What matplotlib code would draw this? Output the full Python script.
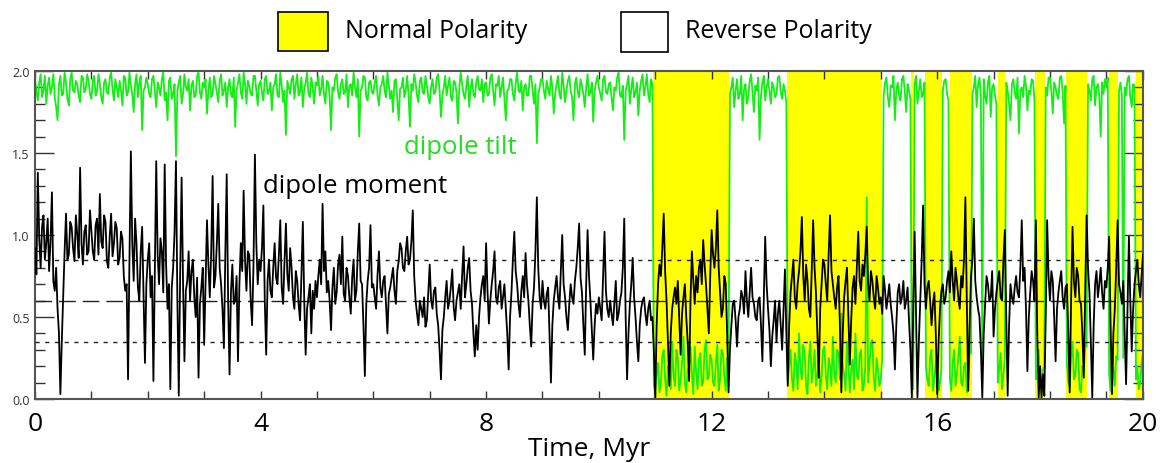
import matplotlib
matplotlib.use("Agg")
import matplotlib.pyplot as plt
import numpy as np
from matplotlib.patches import Rectangle
from matplotlib.ticker import MultipleLocator

plt.rcParams['font.family'] = ['Open Sans', 'DejaVu Sans']

# ---------------- data ----------------
time_step = 0.025         # Myr between samples
t_end = 19.65             # Myr, right edge of the record

# dipole moment, one row per Myr (40 samples each, last row shorter)
moment_rows = [
    [0.92, 0.76, 1.38, 0.98, 0.80, 1.05, 1.12, 0.85, 0.95, 1.10, 0.78, 0.96, 1.26, 0.72, 0.66, 0.80, 0.55, 0.40, 0.03, 0.35,
     0.62, 0.90, 1.13, 0.85, 0.88, 1.08, 1.05, 0.92, 0.84, 1.12, 1.00, 0.86, 1.41, 0.95, 0.82, 1.02, 1.06, 0.88, 0.90, 1.15],
    [1.02, 0.90, 0.85, 1.06, 1.10, 0.88, 1.25, 0.96, 0.92, 1.12, 1.08, 0.84, 0.80, 0.99, 1.13, 0.87, 0.95, 1.08, 1.04, 0.82,
     0.86, 1.02, 0.98, 0.75, 0.66, 0.70, 0.12, 0.85, 1.51, 0.95, 0.72, 1.10, 0.95, 0.68, 0.60, 0.90, 1.05, 0.64, 0.22, 0.70],
    [0.85, 0.95, 0.62, 0.75, 0.11, 0.80, 1.45, 0.88, 0.70, 0.98, 0.90, 0.65, 1.43, 0.82, 0.55, 0.70, 0.06, 0.68, 0.80, 1.02,
     1.45, 0.60, 0.02, 0.78, 1.35, 0.72, 0.23, 0.66, 0.72, 0.90, 0.60, 0.78, 0.85, 0.62, 0.50, 0.74, 0.13, 0.58, 0.68, 0.80],
    [0.33, 0.70, 1.09, 0.82, 0.62, 0.90, 1.36, 0.68, 0.75, 0.95, 1.19, 0.80, 0.70, 0.55, 0.31, 0.88, 1.37, 0.60, 0.15, 0.65,
     0.82, 0.58, 0.60, 0.75, 0.23, 0.70, 0.95, 0.78, 1.27, 0.85, 0.66, 0.90, 0.88, 0.60, 0.45, 0.82, 1.49, 0.95, 0.70, 0.85],
    [0.78, 0.92, 1.18, 0.60, 0.27, 0.72, 0.85, 0.66, 0.62, 0.80, 0.95, 0.74, 0.70, 0.88, 1.09, 0.68, 0.58, 0.84, 1.07, 0.76,
     0.66, 0.92, 0.80, 0.62, 0.55, 0.78, 0.72, 0.58, 0.48, 0.75, 1.08, 0.60, 0.27, 0.55, 0.62, 0.70, 0.40, 0.66, 0.55, 0.72],
    [0.62, 0.75, 0.85, 0.70, 1.19, 0.78, 0.90, 0.65, 0.72, 0.60, 0.42, 0.68, 0.80, 0.58, 0.65, 0.82, 0.88, 0.70, 0.99, 0.64,
     0.60, 0.80, 0.75, 0.62, 0.52, 0.74, 0.85, 0.60, 0.66, 0.90, 1.07, 0.72, 0.70, 0.45, 0.14, 0.58, 0.72, 0.80, 1.06, 0.68],
    [0.70, 0.62, 0.55, 0.76, 0.90, 0.68, 0.62, 0.72, 0.75, 0.58, 0.40, 0.64, 0.68, 0.74, 0.80, 0.66, 0.58, 0.78, 0.84, 0.95,
     0.92, 0.80, 0.78, 0.90, 0.99, 0.82, 0.85, 0.96, 1.15, 0.75, 0.60, 0.52, 0.45, 0.60, 0.55, 0.50, 0.62, 0.44, 0.48, 0.65],
    [0.82, 0.60, 0.55, 0.66, 0.68, 0.52, 0.45, 0.30, 0.12, 0.42, 0.50, 0.62, 0.72, 0.55, 0.60, 0.68, 0.79, 0.56, 0.48, 0.60,
     0.65, 0.70, 0.55, 0.75, 0.93, 0.62, 0.70, 0.80, 0.86, 0.66, 0.58, 0.40, 0.26, 0.45, 0.30, 0.50, 0.62, 0.70, 0.75, 0.60],
    [0.95, 0.66, 0.46, 0.60, 0.70, 0.78, 0.90, 0.62, 0.58, 0.68, 0.72, 0.55, 0.62, 0.70, 0.55, 0.40, 0.18, 0.50, 0.65, 0.85,
     1.02, 0.78, 0.70, 0.58, 0.50, 0.66, 0.75, 0.62, 0.89, 0.70, 0.60, 0.45, 0.32, 0.58, 0.68, 0.90, 1.23, 0.80, 0.62, 0.55],
    [0.72, 0.60, 0.55, 0.64, 0.68, 0.40, 0.10, 0.45, 0.60, 0.68, 0.75, 0.62, 0.55, 0.78, 1.00, 0.70, 0.62, 0.50, 0.42, 0.58,
     0.70, 0.62, 0.58, 0.72, 0.80, 0.92, 1.07, 0.74, 0.65, 0.45, 0.27, 0.70, 1.03, 0.75, 0.60, 0.42, 0.24, 0.45, 0.58, 0.52],
    [0.62, 0.55, 0.48, 0.75, 1.02, 0.66, 0.55, 0.50, 0.60, 0.52, 0.45, 0.58, 0.72, 0.48, 0.52, 0.60, 0.65, 0.80, 1.10, 0.50,
     0.12, 0.40, 0.58, 0.70, 0.86, 0.62, 0.50, 0.35, 0.23, 0.45, 0.55, 0.60, 0.62, 0.52, 0.45, 0.55, 0.60, 0.48, 0.50, 0.30],
    [0.01, 0.45, 0.70, 0.82, 0.75, 0.92, 1.13, 0.78, 0.60, 0.35, 0.08, 0.40, 0.55, 0.62, 0.68, 0.58, 0.72, 0.50, 0.27, 0.52,
     0.62, 0.70, 0.50, 0.35, 0.11, 0.60, 0.90, 0.72, 0.58, 0.75, 0.65, 0.80, 0.85, 0.70, 0.97, 0.82, 0.70, 0.55, 0.40, 0.75],
    [1.03, 0.88, 0.80, 0.92, 1.15, 0.80, 0.65, 0.50, 0.55, 0.75, 0.70, 0.40, 0.04, 0.30, 0.45, 0.58, 0.60, 0.48, 0.32, 0.50,
     0.55, 0.66, 0.62, 0.52, 0.78, 0.60, 0.50, 0.65, 0.80, 0.62, 0.58, 0.50, 0.48, 0.60, 0.62, 0.45, 0.23, 0.60, 0.99, 0.70],
    [0.55, 0.42, 0.20, 0.38, 0.48, 0.60, 0.35, 0.52, 0.60, 0.45, 0.30, 0.55, 0.79, 0.40, 0.08, 0.45, 0.65, 0.75, 0.85, 0.62,
     0.55, 0.70, 0.78, 0.90, 1.11, 0.75, 0.60, 0.82, 0.72, 0.55, 0.50, 0.78, 1.09, 0.80, 0.65, 0.40, 0.13, 0.55, 0.70, 0.85],
    [0.82, 0.70, 0.60, 0.88, 1.12, 0.78, 0.70, 0.62, 0.55, 0.68, 0.75, 0.45, 0.04, 0.40, 0.62, 0.72, 0.80, 0.50, 0.21, 0.48,
     0.68, 0.75, 0.58, 0.80, 1.02, 0.72, 0.66, 0.82, 0.75, 0.88, 1.05, 0.70, 0.60, 0.78, 0.72, 0.62, 0.55, 0.75, 0.68, 0.58],
    [0.62, 0.52, 0.75, 0.66, 0.55, 0.62, 0.70, 0.58, 0.50, 0.40, 0.18, 0.45, 0.65, 0.70, 0.58, 0.62, 0.72, 0.55, 0.60, 0.68,
     0.48, 0.30, 0.01, 0.55, 1.02, 0.50, 0.01, 0.35, 0.60, 0.85, 1.18, 0.70, 0.55, 0.68, 0.72, 0.60, 0.45, 0.58, 0.65, 0.40],
    [0.03, 0.35, 0.55, 0.66, 0.70, 0.58, 0.62, 0.72, 0.78, 0.65, 0.90, 0.72, 0.60, 0.80, 0.72, 0.62, 0.55, 0.75, 0.68, 0.85,
     1.23, 0.60, 0.05, 0.45, 0.75, 0.85, 1.10, 0.72, 0.62, 0.55, 0.50, 0.30, 0.01, 0.40, 0.58, 0.75, 0.70, 0.60, 0.62, 0.78],
    [0.38, 0.55, 0.65, 0.72, 0.78, 0.62, 0.60, 0.85, 1.03, 0.50, 0.02, 0.45, 0.70, 0.62, 0.58, 0.68, 0.75, 0.65, 0.62, 0.80,
     1.09, 0.72, 0.80, 0.55, 0.17, 0.50, 0.65, 0.78, 0.72, 0.60, 1.09, 0.40, 0.01, 0.20, 0.01, 0.15, 0.02, 0.50, 1.09, 0.75],
    [0.60, 0.78, 0.72, 0.50, 0.23, 0.55, 0.65, 0.72, 0.78, 0.62, 0.55, 0.68, 0.70, 0.40, 0.04, 0.60, 1.05, 0.72, 0.62, 0.80,
     0.75, 0.60, 0.58, 0.40, 0.13, 0.65, 1.12, 0.80, 0.65, 0.35, 0.01, 0.45, 0.70, 0.78, 0.62, 0.70, 0.80, 0.65, 0.55, 0.72],
    [0.68, 0.80, 0.99, 0.45, 0.03, 0.40, 0.55, 0.80, 1.09, 0.70, 0.65, 0.58, 0.72, 0.40, 0.09, 0.55, 0.99, 0.60, 0.29, 0.55,
     0.70, 0.78, 0.85, 0.70, 0.62, 0.75, 0.88],
]

# dipole tilt, same sampling
tilt_rows = [
    [1.95, 1.88, 1.82, 1.93, 1.98, 1.84, 1.88, 1.97, 1.80, 1.91, 1.96, 1.86, 1.90, 1.98, 1.84, 1.78, 1.70, 1.92, 1.97, 1.85,
     1.86, 1.99, 1.93, 1.83, 1.79, 1.95, 1.99, 1.88, 1.87, 1.94, 1.92, 1.85, 1.81, 1.97, 1.96, 1.87, 1.89, 1.98, 1.94, 1.86],
    [1.83, 1.94, 1.97, 1.85, 1.88, 1.98, 1.92, 1.84, 1.80, 1.93, 1.95, 1.87, 1.86, 1.96, 1.99, 1.89, 1.82, 1.95, 1.90, 1.84,
     1.94, 1.88, 1.79, 1.97, 1.96, 1.85, 1.87, 1.99, 1.91, 1.86, 1.75, 1.92, 1.98, 1.84, 1.93, 1.97, 1.64, 1.88, 1.90, 1.96],
    [1.92, 1.86, 1.84, 1.95, 1.97, 1.88, 1.78, 1.93, 1.90, 1.85, 1.95, 1.99, 1.82, 1.87, 1.70, 1.94, 1.96, 1.83, 1.86, 1.92,
     1.48, 1.88, 1.93, 1.97, 1.80, 1.86, 1.98, 1.90, 1.88, 1.95, 1.76, 1.91, 1.94, 1.84, 1.85, 1.97, 1.99, 1.87, 1.83, 1.93],
    [1.90, 1.95, 1.74, 1.88, 1.96, 1.84, 1.86, 1.97, 1.92, 1.87, 1.81, 1.94, 1.98, 1.85, 1.88, 1.93, 1.78, 1.90, 1.95, 1.86,
     1.84, 1.96, 1.66, 1.88, 1.93, 1.98, 1.87, 1.83, 1.99, 1.92, 1.80, 1.94, 1.91, 1.86, 1.85, 1.97, 1.97, 1.88, 1.79, 1.92],
    [1.94, 1.87, 1.82, 1.95, 1.97, 1.86, 1.88, 1.93, 1.76, 1.90, 1.92, 1.98, 1.85, 1.84, 1.99, 1.91, 1.81, 1.88, 1.61, 1.94,
     1.90, 1.86, 1.95, 1.97, 1.83, 1.92, 1.98, 1.85, 1.87, 1.96, 1.78, 1.89, 1.93, 1.99, 1.86, 1.84, 1.96, 1.90, 1.80, 1.93],
    [1.91, 1.97, 1.85, 1.89, 1.97, 1.86, 1.80, 1.94, 1.93, 1.85, 1.64, 1.90, 1.88, 1.96, 1.98, 1.87, 1.83, 1.92, 1.95, 1.86,
     1.87, 1.98, 1.78, 1.91, 1.92, 1.85, 1.99, 1.90, 1.84, 1.95, 1.60, 1.88, 1.90, 1.97, 1.96, 1.84, 1.82, 1.93, 1.94, 1.87],
    [1.86, 1.93, 1.97, 1.85, 1.79, 1.90, 1.92, 1.97, 1.88, 1.84, 1.99, 1.91, 1.83, 1.88, 1.75, 1.94, 1.95, 1.82, 1.70, 1.89,
     1.90, 1.96, 1.84, 1.88, 1.97, 1.85, 1.66, 1.92, 1.88, 1.98, 1.93, 1.85, 1.81, 1.94, 1.96, 1.87, 1.86, 1.97, 1.91, 1.84],
    [1.80, 1.90, 1.95, 1.86, 1.87, 1.96, 1.98, 1.88, 1.72, 1.85, 1.90, 1.97, 1.85, 1.91, 1.96, 1.84, 1.82, 1.94, 1.93, 1.87,
     1.68, 1.90, 1.99, 1.92, 1.86, 1.83, 1.91, 1.97, 1.78, 1.89, 1.95, 1.86, 1.84, 1.93, 1.97, 1.89, 1.88, 1.95, 1.81, 1.92],
    [1.93, 1.85, 1.86, 1.96, 1.98, 1.88, 1.79, 1.92, 1.91, 1.97, 1.84, 1.90, 1.96, 1.83, 1.70, 1.88, 1.89, 1.95, 1.95, 1.86,
     1.82, 1.93, 1.99, 1.88, 1.87, 1.94, 1.76, 1.90, 1.92, 1.85, 1.85, 1.97, 1.97, 1.88, 1.80, 1.92, 1.56, 1.86, 1.90, 1.95],
    [1.95, 1.88, 1.83, 1.94, 1.89, 1.85, 1.97, 1.90, 1.74, 1.86, 1.92, 1.97, 1.86, 1.83, 1.99, 1.91, 1.81, 1.88, 1.94, 1.97,
     1.88, 1.84, 1.70, 1.92, 1.96, 1.87, 1.84, 1.95, 1.91, 1.86, 1.78, 1.90, 1.98, 1.85, 1.87, 1.93, 1.69, 1.88, 1.93, 1.97],
    [1.90, 1.86, 1.82, 1.95, 1.97, 1.87, 1.86, 1.92, 1.93, 1.84, 1.76, 1.90, 1.88, 1.96, 1.99, 1.85, 1.84, 1.91, 1.58, 1.88,
     1.92, 1.97, 1.80, 1.89, 1.96, 1.84, 1.87, 1.93, 1.73, 1.88, 1.94, 1.98, 1.85, 1.90, 1.98, 1.86, 1.81, 1.95, 1.92, 0.08],
    [0.05, 0.15, 0.22, 0.04, 0.10, 0.26, 0.30, 0.12, 0.02, 0.20, 0.18, 0.06, 0.35, 0.14, 0.08, 0.30, 0.25, 0.05, 0.12, 0.22,
     0.38, 0.10, 0.04, 0.18, 0.20, 0.32, 0.15, 0.03, 0.32, 0.16, 0.06, 0.24, 0.28, 0.08, 0.10, 0.30, 0.36, 0.12, 0.14, 0.27],
    [0.24, 0.10, 0.08, 0.22, 0.33, 0.05, 0.12, 0.30, 0.28, 0.14, 0.05, 0.25, 0.20, 1.86, 1.90, 1.96, 1.78, 1.88, 1.95, 1.83,
     1.86, 1.97, 1.70, 1.89, 1.92, 1.80, 1.84, 1.94, 1.98, 1.87, 1.75, 1.91, 1.88, 1.96, 1.58, 1.85, 1.93, 1.97, 1.82, 1.90],
    [1.95, 1.88, 1.80, 1.93, 1.90, 1.84, 1.86, 1.96, 1.97, 1.87, 1.83, 1.92, 1.88, 1.80, 0.10, 0.20, 0.30, 0.12, 0.05, 0.28,
     0.22, 0.06, 0.40, 0.18, 0.12, 0.33, 0.28, 0.08, 0.03, 0.25, 0.35, 0.10, 0.18, 0.30, 0.08, 0.15, 0.26, 0.04, 0.14, 0.30],
    [0.32, 0.14, 0.06, 0.25, 0.20, 0.08, 0.38, 0.16, 0.10, 0.30, 0.28, 0.12, 0.52, 0.20, 0.15, 0.05, 0.35, 0.22, 0.04, 0.18,
     0.24, 0.06, 0.40, 0.14, 0.12, 0.27, 0.30, 0.05, 0.08, 0.20, 1.23, 0.10, 0.22, 0.34, 0.36, 0.12, 0.05, 0.25, 0.18, 0.08],
    [0.12, 0.25, 1.85, 1.93, 1.96, 1.84, 1.78, 1.91, 1.90, 1.97, 1.70, 1.88, 1.93, 1.85, 1.82, 1.95, 1.97, 1.88, 1.75, 1.92,
     1.88, 1.83, 0.15, 0.06, 1.92, 1.97, 1.80, 1.88, 1.95, 1.84, 1.86, 1.93, 0.20, 0.12, 0.08, 0.26, 0.30, 0.05, 0.12, 0.22],
    [0.25, 0.05, 0.10, 0.18, 1.88, 1.94, 1.95, 1.86, 1.82, 0.12, 0.05, 0.22, 0.30, 0.08, 0.15, 0.26, 0.38, 0.10, 0.08, 0.20,
     0.22, 0.04, 0.12, 0.30, 0.28, 1.86, 1.90, 1.97, 1.78, 1.92, 1.96, 1.84, 0.25, 1.95, 1.85, 1.80, 1.93, 1.97, 1.72, 1.90],
    [1.92, 1.85, 1.80, 0.10, 0.18, 0.28, 0.06, 0.15, 0.25, 1.93, 1.88, 1.80, 1.70, 1.92, 1.95, 1.87, 1.83, 1.96, 1.62, 1.88,
     1.90, 1.84, 1.97, 1.91, 1.76, 1.88, 1.86, 1.95, 1.94, 1.82, 0.12, 0.22, 0.30, 0.08, 0.05, 0.18, 0.20, 1.90, 1.85, 1.96],
    [1.96, 1.88, 1.74, 1.93, 1.90, 1.85, 1.83, 1.96, 1.97, 1.87, 1.68, 1.91, 0.22, 0.10, 0.08, 0.25, 0.35, 0.12, 0.14, 0.30,
     0.28, 0.06, 0.04, 0.20, 0.18, 0.34, 0.32, 1.92, 1.88, 1.82, 1.95, 1.97, 1.79, 1.90, 1.92, 1.85, 1.60, 1.93, 1.86, 1.95],
    [1.90, 1.96, 0.15, 0.05, 0.32, 0.18, 0.08, 0.26, 0.24, 1.88, 1.93, 1.85, 0.25, 1.90, 1.85, 1.95, 1.97, 1.84, 1.78, 1.92,
     1.91, 0.12, 0.20, 0.06, 0.10, 0.22, 0.28],
]

# normal-polarity intervals (Myr)
normal_start = [10.96, 13.33, 15.53, 15.78, 16.22, 17.07, 17.74, 18.29, 19.04, 19.52]
normal_end   = [12.31, 15.03, 15.59, 16.08, 16.62, 17.21, 17.92, 18.66, 19.21, 19.65]

# reference levels
mean_level = 0.60
band_upper = 0.85
band_lower = 0.35

yticks = [0.0, 0.5, 1.0, 1.5, 2.0]
ytick_labels = ['0.0', '0.5', '1.0', '1.5', '2.0']
xticks = [0, 4, 8, 12, 16, 19.65]
xtick_labels = ['0', '4', '8', '12', '16', '20']

# ---------------- figure ----------------
moment = np.concatenate([np.array(r) for r in moment_rows])
tilt = np.concatenate([np.array(r) for r in tilt_rows])
time_m = np.arange(len(moment)) * time_step
time_t = np.arange(len(tilt)) * time_step

fig = plt.figure(figsize=(11.61, 4.64), dpi=100)
ax = fig.add_axes([35 / 1161, 1 - 400 / 464, (1143 - 35) / 1161, (400 - 72) / 464])

yellow = '#FFFF00'
green = '#14EE14'

for s, e in zip(normal_start, normal_end):
    ax.axvspan(s, e, color=yellow, lw=0, zorder=1)

ax.plot(time_t, tilt, color=green, lw=1.3, zorder=2)

ax.axhline(mean_level, color='#222222', lw=1.0, ls=(0, (12, 5)), zorder=3)
ax.axhline(band_upper, color='#222222', lw=1.0, ls=(0, (3, 4)), zorder=3)
ax.axhline(band_lower, color='#222222', lw=1.0, ls=(0, (3, 4)), zorder=3)

ax.plot(time_m, moment, color='black', lw=1.3, zorder=4)

ax.set_xlim(0, t_end)
ax.set_ylim(0, 2.0)

ax.set_yticks(yticks)
ax.set_yticklabels(ytick_labels)
ax.yaxis.set_minor_locator(MultipleLocator(0.1))
ax.set_xticks(xticks)
ax.set_xticklabels(xtick_labels)
ax.xaxis.set_minor_locator(MultipleLocator(1))

ax.tick_params(axis='y', which='major', direction='in', length=14, width=1.0,
               labelsize=9, labelcolor='#333333', color='#333333', pad=4,
               left=True, right=True)
ax.tick_params(axis='y', which='minor', direction='in', length=7, width=1.0,
               color='#333333', left=True, right=True)
ax.tick_params(axis='x', which='major', direction='in', length=6, width=1.0,
               labelsize=19, pad=9, color='#333333', top=True, bottom=True)
ax.tick_params(axis='x', which='minor', direction='in', length=6, width=1.0,
               color='#333333', top=True, bottom=True)
for sp in ax.spines.values():
    sp.set_color('#555555')
    sp.set_linewidth(1.5)

ax.set_xlabel('Time, Myr', fontsize=19, labelpad=0)

ax.text(7.55, 1.54, 'dipole tilt', color='#22DD22', fontsize=18.5, ha='center', va='center', zorder=5)
ax.text(5.67, 1.30, 'dipole moment', color='black', fontsize=18.5, ha='center', va='center', zorder=5)

# legend
fig.patches.append(Rectangle((278 / 1161, 1 - 52 / 464), 50 / 1161, 39 / 464,
                             transform=fig.transFigure, facecolor=yellow,
                             edgecolor='black', lw=1.2))
fig.patches.append(Rectangle((621 / 1161, 1 - 53 / 464), 47 / 1161, 40 / 464,
                             transform=fig.transFigure, facecolor='white',
                             edgecolor='black', lw=1.2))
fig.text(345 / 1161, 1 - 31 / 464, 'Normal Polarity', fontsize=18, va='center', ha='left')
fig.text(685 / 1161, 1 - 31 / 464, 'Reverse Polarity', fontsize=18, va='center', ha='left')

fig.savefig('out.png', dpi=100)
